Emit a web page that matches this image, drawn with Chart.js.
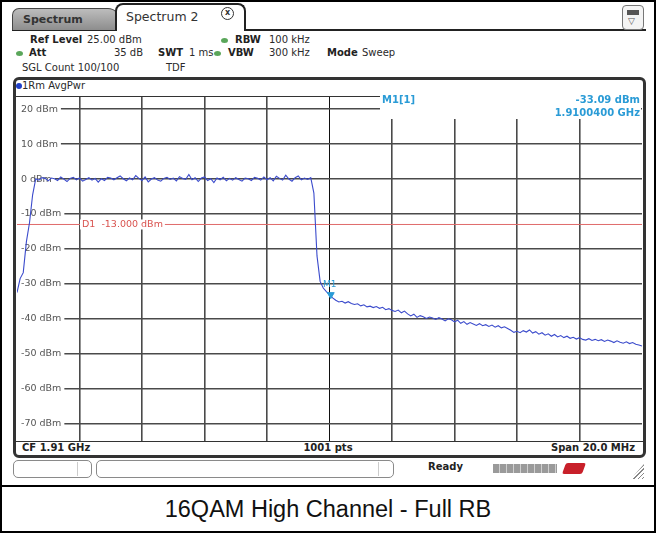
<!DOCTYPE html>
<html>
<head>
<meta charset="utf-8">
<title>16QAM High Channel - Full RB</title>
<script src="https://cdn.jsdelivr.net/npm/chart.js@4.4.1/dist/chart.umd.min.js"></script>
<style>
    * { box-sizing: border-box; }
    html, body { margin: 0; padding: 0; background: #fff; }
    #page { position: relative; width: 660px; height: 533px; overflow: hidden; background: #fff;
            font-family: "DejaVu Sans", sans-serif; font-size: 10px; color: #2a2a2a; }
    .abs { position: absolute; white-space: nowrap; line-height: 12px; }
    .b { font-weight: bold; color: #222; }
    .dot { position: absolute; width: 7px; height: 5px; border-radius: 50%; background: #5aa65a; }
    #frame { left: 0; top: 0; width: 656px; height: 533px; border: 2px solid #000; }
    #sep { left: 0; top: 485px; width: 656px; height: 2px; background: #000; }
    #caption { left: 0; top: 496px; width: 656px; text-align: center; line-height: 28px;
               font: 23.5px "Liberation Sans", Arial, sans-serif; color: #111; }
    #topline { left: 12px; top: 29px; width: 634px; height: 2px; background: #222; }
    #tab1 { left: 12px; top: 8px; width: 108px; height: 22px; padding-left: 10px; line-height: 21px;
            background: linear-gradient(#bdbdbd, #8d8d8d); border: 1px solid #444; border-bottom: none;
            border-radius: 7px 12px 0 0; font-weight: bold; font-size: 11px; color: #333; }
    #tab2 { left: 115px; top: 3px; width: 131px; height: 28px; padding-left: 9px; line-height: 24px;
            background: #fff; border: 2px solid #222; border-bottom: none; border-radius: 8px 8px 0 0;
            font-size: 12.5px; color: #333; }
    #close { left: 221px; top: 7px; width: 13px; height: 13px; border: 1.5px solid #333; border-radius: 50%;
             font-size: 8px; line-height: 10px; text-align: center; font-weight: bold; color: #333; }
    #btn { left: 622px; top: 5px; width: 22px; height: 25px; border: 1px solid #777; border-radius: 4px; background: #f4f4f4; }
    #btn .bar { position: absolute; left: 4px; top: 4px; width: 12px; height: 5px; background: #555; }
    #btn .tri { position: absolute; left: 5px; top: 10px; font-size: 9px; color: #555; line-height: 10px; }
    #panel { left: 13px; top: 77px; width: 633px; height: 381px; border: 3px solid #333; border-radius: 6px; background: #fff; }
    .hline { position: absolute; height: 1px; background: #333; }
    #tdot { left: 16px; top: 83px; width: 6px; height: 6px; border-radius: 50%; background: #1f3fc8; }
    .sbox { position: absolute; top: 460px; height: 18px; border: 1px solid #8a8a8a; border-radius: 5px; background: #fff; }
    .sdiv { position: absolute; top: 462px; width: 1px; height: 14px; background: #ccc; }
    #blocks { left: 493px; top: 464px; width: 64px; height: 9px;
              background: repeating-linear-gradient(90deg, #9a9a9a 0 6px, #d0d0d0 6px 7px); }
    #lxi { left: 564px; top: 463px; width: 20px; height: 11px; background: #c8202a; transform: skewX(-20deg); border-radius: 2px; }
    #hatch { left: 631px; top: 464px; width: 13px; height: 15px;
             background: repeating-linear-gradient(135deg, #888 0 1px, transparent 1px 3px);
             clip-path: polygon(100% 0, 100% 100%, 0 100%); }
    #plot { position: absolute; left: 0; top: 0; }
</style>
</head>
<body>
<div id="page">
    <div class="abs" id="frame"></div>

    <!-- tabs -->
    <div class="abs" id="topline"></div>
    <div class="abs" id="tab1">Spectrum</div>
    <div class="abs" id="tab2">Spectrum 2</div>
    <div class="abs" id="close">x</div>
    <div class="abs" id="btn"><div class="bar"></div><div class="tri">▽</div></div>

    <!-- instrument settings -->
    <div class="abs b" style="left:30px; top:34px;">Ref Level</div>
    <div class="abs" style="left:87px; top:34px;">25.00 dBm</div>
    <div class="dot" style="left:221px; top:38px;"></div>
    <div class="abs b" style="left:235px; top:34px;">RBW</div>
    <div class="abs" style="left:269px; top:34px;">100 kHz</div>

    <div class="dot" style="left:16px; top:51px;"></div>
    <div class="abs b" style="left:29px; top:47px;">Att</div>
    <div class="abs" style="left:103px; top:47px; width:40px; text-align:right;">35 dB</div>
    <div class="abs b" style="left:158px; top:47px;">SWT</div>
    <div class="abs" style="left:189px; top:47px;">1 ms</div>
    <div class="dot" style="left:214px; top:51px;"></div>
    <div class="abs b" style="left:228px; top:47px;">VBW</div>
    <div class="abs" style="left:269px; top:47px;">300 kHz</div>
    <div class="abs b" style="left:327px; top:47px;">Mode</div>
    <div class="abs" style="left:362px; top:47px;">Sweep</div>

    <div class="abs" style="left:22px; top:62px;">SGL Count 100/100</div>
    <div class="abs" style="left:166px; top:62px;">TDF</div>

    <!-- diagram panel -->
    <div class="abs" id="panel"></div>
    <div class="abs" id="tdot"></div>
    <div class="abs" style="left:22px; top:80px;">1Rm AvgPwr</div>
    <div class="hline" style="left:16px; top:96px; width:364px;"></div>
    <div class="hline" style="left:16px; top:441px; width:627px;"></div>
    <div class="abs b" style="left:22px; top:442px;">CF 1.91 GHz</div>
    <div class="abs b" style="left:278px; top:442px; width:100px; text-align:center;">1001 pts</div>
    <div class="abs b" style="left:535px; top:442px; width:100px; text-align:right;">Span 20.0 MHz</div>

    <!-- status bar -->
    <div class="sbox" style="left:13px; width:79px;"></div>
    <div class="sdiv" style="left:77px;"></div>
    <div class="sbox" style="left:96px; width:298px;"></div>
    <div class="sdiv" style="left:378px;"></div>
    <div class="abs b" style="left:428px; top:461px;">Ready</div>
    <div class="abs" id="blocks"></div>
    <div class="abs" id="lxi"></div>
    <div class="abs" id="hatch"></div>

    <div class="abs" id="sep"></div>
    <div class="abs" id="caption">16QAM High Channel - Full RB</div>

    <canvas id="plot" width="660" height="533"></canvas>
</div>

<script>
// Sweep: 1.90 GHz .. 1.92 GHz, read every 0.1 MHz
var sweepStartMHz = 1900;
var sweepStepMHz = 0.1;

// Trace 1 (AvgPwr), dBm
var levelDbm = [
    -32.5, -28.5, -26.8, -18.0, -12.5, -4.5,
    0.1, -0.3, 0.4, 0.2, -0.5, 0.3, 0.1, -0.4, 0.6, 0.0,
    -0.7, 0.2, 0.5, -0.2, 0.3, -0.6, -0.1, 0.4, -0.3, 0.2,
    -0.9, 0.1, -0.4, 0.5, 0.3, -0.2, 0.4, 0.9, 0.1, -0.5,
    0.3, -0.2, 1.0, 0.2, -0.4, 0.6, -0.8, 0.0, 0.4, -0.3,
    -0.6, 0.2, 0.5, -0.1, 0.3, -0.5, 0.7, 0.2, -0.1, 1.3,
    -0.2, 0.4, -0.7, 0.3, 0.6, -0.4, 0.1, -1.0, 0.3, -0.2,
    0.5, -0.5, 0.2, -0.3, 0.4, -0.1, -0.6, 0.3, 0.1, -0.4,
    0.5, 0.2, -0.3, 0.6, -0.2, 0.4, -0.5, 0.8, 0.2, -0.3,
    1.1, 0.0, -0.6, 0.4, 0.9, -0.2, 0.3, -0.1, 0.4,
    -4.0, -22.0, -29.3, -31.2, -32.2,
    -33.1, -34.0, -34.7, -35.2, -35.0, -35.5, -35.1, -35.6, -35.9, -35.7,
    -36.3, -36.0, -36.6, -36.4, -36.8, -36.5, -37.0, -36.7, -37.4, -37.1,
    -37.6, -37.9, -37.5, -38.3, -37.8, -38.6, -39.2, -38.7, -39.6, -39.1,
    -39.4, -39.9, -39.5, -39.8, -40.2, -39.7, -40.1, -40.6, -40.0, -40.3,
    -40.9, -40.4, -41.3, -40.8, -41.6, -41.1, -41.5, -41.9, -41.4, -42.0,
    -41.7, -42.2, -41.8, -42.4, -42.0, -42.6, -42.3, -42.8, -43.3, -43.9,
    -43.6, -44.0, -43.4, -43.8, -43.2, -44.1, -43.7, -44.4, -44.0, -44.7,
    -44.3, -45.0, -44.5, -45.2, -44.8, -45.4, -45.0, -45.6, -45.3, -45.8,
    -45.4, -45.9, -46.1, -45.7, -46.2, -45.9, -46.3, -46.0, -46.5, -46.1,
    -46.4, -46.8, -46.3, -46.7, -47.0, -46.6, -47.1, -46.8, -47.3, -47.5,
    -47.8
];

// Axis ticks
var yTicks = [20, 10, 0, -10, -20, -30, -40, -50, -60, -70];
var xTicks = [1900, 1902, 1904, 1906, 1908, 1910, 1912, 1914, 1916, 1918, 1920];
var yRange = [-75, 23.5];

// Display line D1 and marker M1
var displayLine = -13;
var markerFreqMHz = 1910.04;
var markerLevel = -33.09;

// Colours
var traceColor = '#3b4bcc';
var markerColor = '#2a9bd6';
var lineColor = '#e06a6a';
var gridColor = '#4a4a4a';

// Where the diagram grid sits on the page
var plotBox = { left: 17, top: 97, right: 642, bottom: 441 };

(function() {
    'use strict';

    var freqMHz = levelDbm.map(function(v, i) {
        return Math.round((sweepStartMHz + i * sweepStepMHz) * 10) / 10;
    });

    var trace = levelDbm.map(function(v, i) {
        return { x: freqMHz[i], y: v };
    });

    // Texts drawn on top of the diagram: D1 label, marker label and marker table
    var overlay = {
        id: 'overlay',
        afterDatasetsDraw: function(chart) {
            var ctx = chart.ctx;
            var ca = chart.chartArea;
            var xs = chart.scales.x;
            var ys = chart.scales.y;
            ctx.save();

            // D1 label breaks the red line
            var dy = ys.getPixelForValue(displayLine);
            ctx.font = '9.5px "DejaVu Sans", sans-serif';
            ctx.textBaseline = 'middle';
            var d1 = 'D1  -13.000 dBm';
            var w = ctx.measureText(d1).width;
            ctx.fillStyle = '#fff';
            ctx.fillRect(ca.left + 63, dy - 5, w + 4, 10);
            ctx.fillStyle = '#d9534f';
            ctx.textAlign = 'left';
            ctx.fillText(d1, ca.left + 65, dy + 0.5);

            // M1 label above the marker
            var mx = xs.getPixelForValue(markerFreqMHz);
            var my = ys.getPixelForValue(markerLevel);
            ctx.fillStyle = markerColor;
            ctx.font = '9px "DejaVu Sans", sans-serif';
            ctx.textAlign = 'center';
            ctx.fillText('M1', mx - 1, my - 10);

            // Marker table, top right
            ctx.fillStyle = '#fff';
            ctx.fillRect(380, ca.top - 3, ca.right - 381, 25);
            ctx.fillStyle = markerColor;
            ctx.font = 'bold 10px "DejaVu Sans", sans-serif';
            ctx.textAlign = 'left';
            ctx.fillText('M1[1]', 382, ca.top + 3);
            ctx.textAlign = 'right';
            ctx.fillText('-33.09 dBm', ca.right - 2, ca.top + 3);
            ctx.fillText('1.9100400 GHz', ca.right - 2, ca.top + 16);
            ctx.restore();
        }
    };

    var ctx = document.getElementById('plot');
    var chart = new Chart(ctx, {
        type: 'line',
        data: {
            datasets: [{
                label: '1Rm AvgPwr',
                data: trace,
                borderColor: traceColor,
                borderWidth: 1.1,
                pointRadius: 0,
                tension: 0
            }, {
                label: 'D1',
                data: [{ x: xTicks[0], y: displayLine }, { x: xTicks[xTicks.length - 1], y: displayLine }],
                borderColor: lineColor,
                borderWidth: 1,
                pointRadius: 0
            }, {
                label: 'M1',
                data: [{ x: markerFreqMHz, y: markerLevel }],
                showLine: false,
                pointStyle: 'triangle',
                rotation: 180,
                pointRadius: 4,
                backgroundColor: markerColor,
                borderColor: markerColor,
                order: -1
            }]
        },
        options: {
            responsive: false,
            animation: false,
            events: [],
            layout: { padding: { left: plotBox.left, top: plotBox.top, right: 660 - plotBox.right, bottom: 533 - plotBox.bottom } },
            plugins: { legend: { display: false }, tooltip: { enabled: false } },
            scales: {
                x: {
                    type: 'linear',
                    min: xTicks[0],
                    max: xTicks[xTicks.length - 1],
                    afterBuildTicks: function(scale) {
                        scale.ticks = xTicks.map(function(v) { return { value: v }; });
                    },
                    ticks: { display: false },
                    border: { display: false },
                    grid: {
                        drawTicks: false,
                        color: function(c) {
                            var v = c.tick ? c.tick.value : null;
                            if (v === xTicks[0] || v === xTicks[xTicks.length - 1]) return 'rgba(0,0,0,0)';
                            if (v === 1910) return '#111';
                            return gridColor;
                        },
                        lineWidth: function(c) {
                            return (c.tick && c.tick.value === 1910) ? 1 : 1.6;
                        }
                    }
                },
                y: {
                    type: 'linear',
                    min: yRange[0],
                    max: yRange[1],
                    afterBuildTicks: function(scale) {
                        scale.ticks = yTicks.map(function(v) { return { value: v }; });
                    },
                    border: { display: false },
                    grid: { drawTicks: false, color: gridColor, lineWidth: 1.6 },
                    ticks: {
                        mirror: true,
                        padding: 4,
                        color: '#555',
                        font: { family: '"DejaVu Sans", sans-serif', size: 9.5 },
                        showLabelBackdrop: true,
                        backdropColor: '#fff',
                        backdropPadding: { left: 4, right: 3, top: 1, bottom: 1 },
                        callback: function(v) { return v + ' dBm'; }
                    }
                }
            }
        },
        plugins: [overlay]
    });

    // Nudge the padding so the grid lands exactly on plotBox
    for (var k = 0; k < 2; k++) {
        var ca = chart.chartArea;
        var p = chart.options.layout.padding;
        p.left += plotBox.left - ca.left;
        p.top += plotBox.top - ca.top;
        p.right += ca.right - plotBox.right;
        p.bottom += ca.bottom - plotBox.bottom;
        chart.update();
    }
})();
</script>
</body>
</html>
